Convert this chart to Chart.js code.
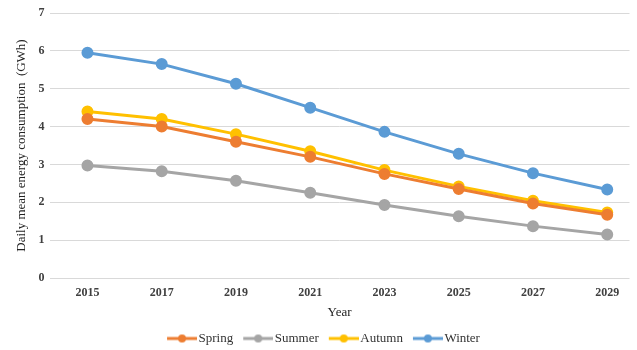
<!DOCTYPE html>
<html><head><meta charset="utf-8">
<script src="https://cdn.jsdelivr.net/npm/chart.js@4"></script>
<style>html,body{margin:0;padding:0;background:#fff}#w{width:637px;height:350px}</style>
</head><body><div id="w"><canvas id="c"></canvas></div>
<script>
const years = [2015, 2017, 2019, 2021, 2023, 2025, 2027, 2029];
const spring = [4.2, 4.0, 3.6, 3.2, 2.75, 2.35, 1.97, 1.67];
const summer = [2.97, 2.82, 2.57, 2.25, 1.93, 1.63, 1.37, 1.15];
const autumn = [4.4, 4.2, 3.8, 3.35, 2.85, 2.42, 2.04, 1.73];
const winter = [5.95, 5.65, 5.13, 4.5, 3.86, 3.28, 2.77, 2.34];
const seriesNames = ['Spring','Summer','Autumn','Winter'];
const colors = ['#ED7D31','#A5A5A5','#FFC000','#5B9BD5'];
const values = [spring, summer, autumn, winter];

function legendIcon(col){
  const cv = document.createElement('canvas');
  cv.width = 35; cv.height = 10;
  const g = cv.getContext('2d');
  g.strokeStyle = col; g.lineWidth = 3;
  g.beginPath(); g.moveTo(5,5); g.lineTo(35,5); g.stroke();
  g.fillStyle = col; g.beginPath(); g.arc(20,5,4,0,Math.PI*2); g.fill();
  return cv;
}
const font = "'Liberation Serif','Times New Roman',serif";
new Chart(document.getElementById('c'), {
  type: 'line',
  data: {
    datasets: seriesNames.map((n,i)=>({
      label: n, data: years.map((y,j)=>({x: y, y: values[i][j]})),
      borderColor: colors[i], backgroundColor: colors[i],
      borderWidth: 3, pointRadius: 4.5, pointHoverRadius: 4.5, tension: 0
    }))
  },
  options: {
    responsive: true, maintainAspectRatio: false, animation: false,
    layout: { padding: { left: 10, right: 0, top: 13, bottom: -5 } },
    plugins: {
      legend: {
        position: 'bottom',
        labels: {
          usePointStyle: true, pointStyleWidth: 25, boxHeight: 10, padding: 10,
          color: '#333', font: { family: font, size: 13 },
          generateLabels: (chart) => chart.data.datasets.map((d,i)=>({
            text: d.label, fillStyle: d.borderColor, strokeStyle: d.borderColor,
            pointStyle: legendIcon(d.borderColor), datasetIndex: i, lineWidth: 0, fontColor: '#333'
          }))
        }
      },
      tooltip: { enabled: false }
    },
    scales: {
      x: {
        type: 'linear',
        min: 2013.98, max: 2029.6,
        afterBuildTicks: (axis) => { axis.ticks = years.map(v => ({ value: v })); },
        grid: { display: false, drawTicks: false },
        border: { display: false },
        ticks: { color: '#404040', padding: 8, autoSkip: false, maxRotation: 0,
                 callback: (v) => String(v),
                 font: { family: font, size: 12, weight: 'bold' } },
        title: { display: true, text: 'Year', color: '#222', font: { family: font, size: 13 }, padding: { top: -4, bottom: 2 } }
      },
      y: {
        min: 0, max: 7,
        grid: { color: '#d9d9d9', lineWidth: 1, drawTicks: false },
        border: { display: false },
        ticks: { stepSize: 1, color: '#404040', padding: 5, font: { family: font, size: 12, weight: 'bold' } },
        title: { display: true, text: 'Daily mean energy consumption  (GWh)', color: '#222', font: { family: font, size: 13 } }
      }
    }
  }
});
</script></body></html>
